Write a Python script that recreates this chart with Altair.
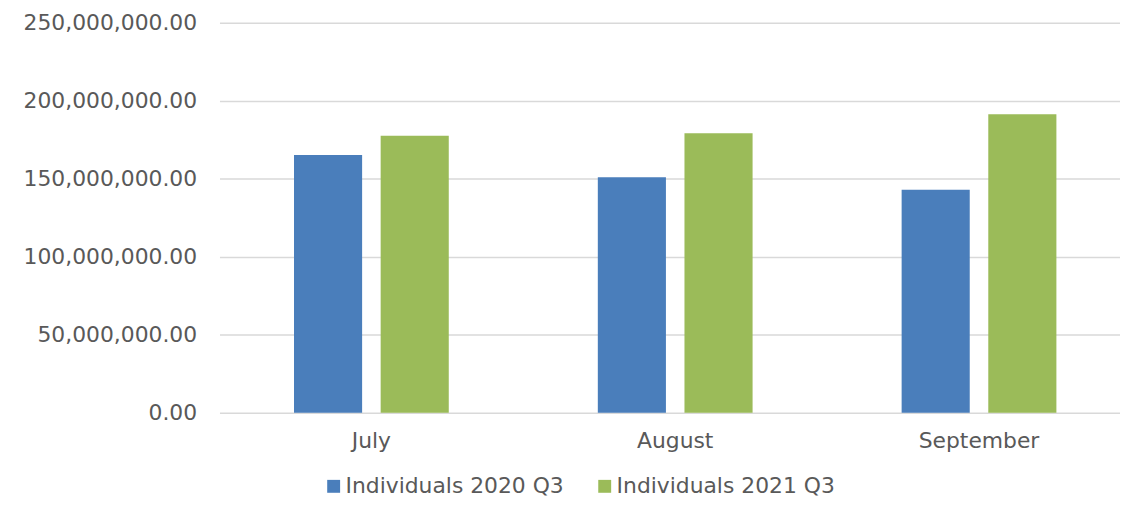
import altair as alt
import pandas as pd

months = ["July", "August", "September"]
series = ["Individuals 2020 Q3", "Individuals 2021 Q3"]
values_2020 = [165200000, 151000000, 142900000]
values_2021 = [177500000, 179200000, 191300000]
colors = ["#4A7EBB", "#9BBB59"]

rows = []
for m, a, b in zip(months, values_2020, values_2021):
    rows.append({"month": m, "series": series[0], "value": a})
    rows.append({"month": m, "series": series[1], "value": b})
df = pd.DataFrame(rows)

FONT = "DejaVu Sans"
GREY = "#595959"
FS = 22

chart = alt.Chart(df).mark_bar().encode(
    x=alt.X("month:N", sort=months, title=None,
            scale=alt.Scale(paddingInner=0, paddingOuter=0, range=[1, 919]),
            axis=alt.Axis(labelAngle=0, ticks=False, domain=False, labelPadding=18,
                          labelFontSize=FS, labelColor=GREY, labelFont=FONT)),
    xOffset=alt.XOffset("series:N", sort=series,
                        scale=alt.Scale(paddingInner=0.214, paddingOuter=0.86)),
    y=alt.Y("value:Q", title=None,
            scale=alt.Scale(domain=[0, 250000000]),
            axis=alt.Axis(values=[0, 50000000, 100000000, 150000000, 200000000, 250000000],
                          format=",.2f", ticks=False, domain=False, labelPadding=22,
                          labelFontSize=FS, labelColor=GREY, labelFont=FONT,
                          gridColor="#D9D9D9", gridWidth=1.5)),
    color=alt.Color("series:N", sort=series,
                    scale=alt.Scale(domain=series, range=colors),
                    legend=alt.Legend(title=None, orient="none", legendX=105, legendY=456,
                                      direction="horizontal", symbolType="square",
                                      symbolSize=169, symbolStrokeWidth=0,
                                      labelFontSize=FS, labelColor=GREY, labelFont=FONT,
                                      labelOffset=1, columnPadding=30, labelLimit=400)),
).properties(
    width=908,
    height=393,
    padding={"left": 212, "top": 13, "right": 0, "bottom": 85},
    autosize=alt.AutoSizeParams(type="none"),
    background="white",
).configure_view(stroke=None)

chart.save("out.html", embed_options={"renderer": "svg", "actions": False})
